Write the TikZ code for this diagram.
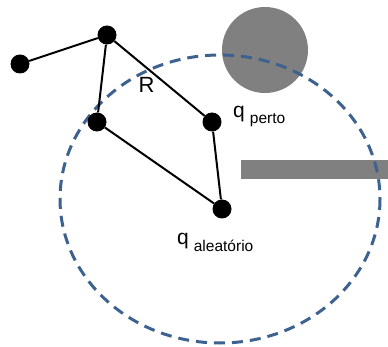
\documentclass[tikz,border=0pt]{standalone}
\usepackage{fontspec}
\setmainfont{Liberation Sans}
\definecolor{reachblue}{RGB}{62,98,144}
\definecolor{obstgray}{RGB}{128,128,128}
\tikzset{
  joint/.style={circle, fill=black, inner sep=0pt, minimum size=19pt},
  link/.style={line width=2pt, black},
  reach/.style={reachblue, line width=3pt, dash pattern=on 11pt off 7pt},
  obstacle/.style={fill=obstgray, draw=none},
}
\begin{document}
\begin{tikzpicture}[x=1pt, y=-1pt]
  \useasboundingbox (0,0) rectangle (388,347);

  % obstacles
  \fill[obstacle] (265,50) circle (43);
  \fill[obstacle] (241,160) rectangle (388,179);

  % reachable region
  \draw[reach] (220,199) ellipse [x radius=160, y radius=144];

  % robot joints
  \node[joint] (base) at (20,64) {};
  \node[joint] (top)  at (107,35) {};
  \node[joint] (left) at (97,122) {};
  \node[joint] (near) at (212,122) {};
  \node[joint] (rand) at (222,209) {};

  % links
  \draw[link] (base) -- (top);
  \draw[link] (top) -- (left);
  \draw[link] (top) -- (near);
  \draw[link] (left) -- (rand);
  \draw[link] (near) -- (rand);

  % labels
  \node[inner sep=0pt] (lblR) at (146.5,85) {\fontsize{22}{22}\selectfont R};
  \node[anchor=base west, inner sep=0pt] (lblnear) at (233,118)
    {\fontsize{21}{21}\selectfont q\hspace{5pt}\raisebox{-6pt}{\fontsize{15.5}{15.5}\selectfont perto}};
  \node[anchor=base west, inner sep=0pt] (lblrand) at (177,245)
    {\fontsize{21}{21}\selectfont q\hspace{5pt}\raisebox{-6pt}{\fontsize{15.5}{15.5}\selectfont aleatório}};
\end{tikzpicture}
\end{document}
